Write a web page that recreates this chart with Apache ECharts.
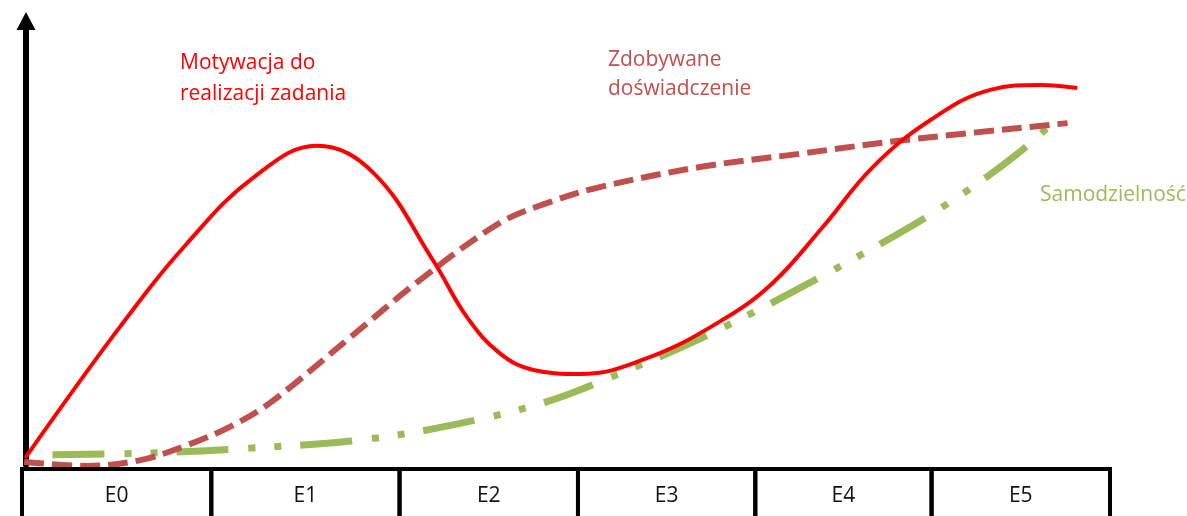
<!DOCTYPE html>
<html>
<head>
<meta charset="utf-8">
<script src="https://cdn.jsdelivr.net/npm/echarts@6/dist/echarts.min.js"></script>
<style>
  html, body { margin: 0; padding: 0; background: #fff; }
  #chart { width: 1187px; height: 516px; }
</style>
</head>
<body>
<div id="chart"></div>
<script>
// Stages shown in the table under the chart (edges on the 0–100 time scale)
const stageNames = ['E0', 'E1', 'E2', 'E3', 'E4', 'E5'];
const stageEdges = [0, 17.4, 34.7, 51.1, 67.4, 83.6, 100];

// Curve labels
const motivationLabel = 'Motywacja do\nrealizacji zadania';
const experienceLabel = 'Zdobywane\ndoświadczenie';
const autonomyLabel = 'Samodzielność';

// Motivation to carry out the task: [time, level]
const motivation = [
  [0.3, 1.6], [9.0, 31.1], [15.2, 50.0], [21.2, 64.6], [27.1, 71.9],
  [32.3, 65.8], [37.8, 46.0], [40.9, 33.3], [43.9, 25.2], [47.0, 21.4], [51.3, 20.5],
  [57.7, 24.3], [64.4, 32.7], [69.0, 41.0], [73.6, 53.6], [78.2, 67.1], [83.5, 77.7],
  [89.0, 84.5], [93.6, 85.6], [97.0, 84.9]
];

// Experience gained
const experience = [
  [0.2, 0.7], [6.0, -0.2], [10.9, 1.1], [15.2, 4.5], [19.1, 8.6], [22.8, 14.0],
  [29.9, 28.2], [36.6, 41.7], [43.9, 54.5], [48.5, 59.2], [53.1, 62.6], [62.3, 67.1],
  [71.5, 70.1], [81.2, 73.2], [96.1, 77.0]
];

// Autonomy
const autonomy = [
  [2.8, 2.3], [12.0, 2.7], [21.0, 3.8], [30.2, 5.4], [38.1, 8.3], [47.9, 14.0],
  [56.2, 21.9], [62.3, 28.4], [70.6, 38.7], [80.7, 52.3], [86.4, 61.0], [91.7, 70.5],
  [95.3, 78.4]
];

const RED = '#FF0000';
const BROWN = '#C0504D';
const GREEN = '#9BBB59';
const FONT = '"Open Sans", "Noto Sans", sans-serif';

const stageCells = stageNames.map((name, i) => [stageEdges[i], stageEdges[i + 1]]);

const chart = echarts.init(document.getElementById('chart'), null, { renderer: 'canvas' });

chart.setOption({
  animation: false,
  backgroundColor: '#fff',
  grid: [
    { left: 22, width: 1088, top: 21, height: 444, outerBoundsMode: 'none' },
    { left: 22, width: 1088, top: 469, height: 60, outerBoundsMode: 'none' }
  ],
  xAxis: [
    { type: 'value', gridIndex: 0, min: 0, max: 100, show: false },
    { type: 'value', gridIndex: 1, min: 0, max: 100, show: false }
  ],
  yAxis: [
    {
      type: 'value', gridIndex: 0, min: 0, max: 100, offset: -4,
      axisLine: {
        show: true,
        symbol: ['none', 'triangle'],
        symbolSize: [19, 18],
        lineStyle: { color: '#000', width: 6 }
      },
      axisTick: { show: false },
      axisLabel: { show: false },
      splitLine: { show: false }
    },
    { type: 'value', gridIndex: 1, min: 0, max: 1, show: false }
  ],
  graphic: [
    {
      type: 'text', left: 180, top: 48,
      style: { text: motivationLabel, fill: RED, font: '21px ' + FONT, lineHeight: 31 }
    },
    {
      type: 'text', left: 608, top: 46,
      style: { text: experienceLabel, fill: BROWN, font: '21px ' + FONT, lineHeight: 29 }
    },
    {
      type: 'text', left: 1040, top: 181,
      style: { text: autonomyLabel, fill: GREEN, font: '21px ' + FONT, lineHeight: 29 }
    }
  ],
  series: [
    {
      type: 'line', name: 'Samodzielność', xAxisIndex: 0, yAxisIndex: 0,
      data: autonomy, smooth: 0.35, showSymbol: false, clip: false, z: 3,
      lineStyle: { color: GREEN, width: 7, type: [52, 20, 7, 19, 7, 19], cap: 'butt' }
    },
    {
      type: 'line', name: 'Zdobywane doświadczenie', xAxisIndex: 0, yAxisIndex: 0,
      data: experience, smooth: 0.35, showSymbol: false, clip: false, z: 4,
      lineStyle: { color: BROWN, width: 6, type: [20, 8], cap: 'butt' }
    },
    {
      type: 'line', name: 'Motywacja do realizacji zadania', xAxisIndex: 0, yAxisIndex: 0,
      data: motivation, smooth: 0.4, showSymbol: false, clip: false, z: 5,
      lineStyle: { color: RED, width: 4 }
    },
    {
      type: 'custom', name: 'stages', xAxisIndex: 1, yAxisIndex: 1,
      data: stageCells, z: 6, clip: false,
      renderItem: function (params, api) {
        const p0 = api.coord([api.value(0), 1]);
        const p1 = api.coord([api.value(1), 0]);
        return {
          type: 'group',
          children: [
            {
              type: 'rect',
              shape: { x: p0[0], y: p0[1], width: p1[0] - p0[0], height: p1[1] - p0[1] },
              style: { fill: null, stroke: '#000', lineWidth: 4 }
            },
            {
              type: 'text',
              x: (p0[0] + p1[0]) / 2,
              y: p0[1] + 27,
              style: {
                text: stageNames[params.dataIndex],
                fill: '#111', font: '21px ' + FONT,
                align: 'center', verticalAlign: 'middle'
              }
            }
          ]
        };
      }
    }
  ]
});
</script>
</body>
</html>
